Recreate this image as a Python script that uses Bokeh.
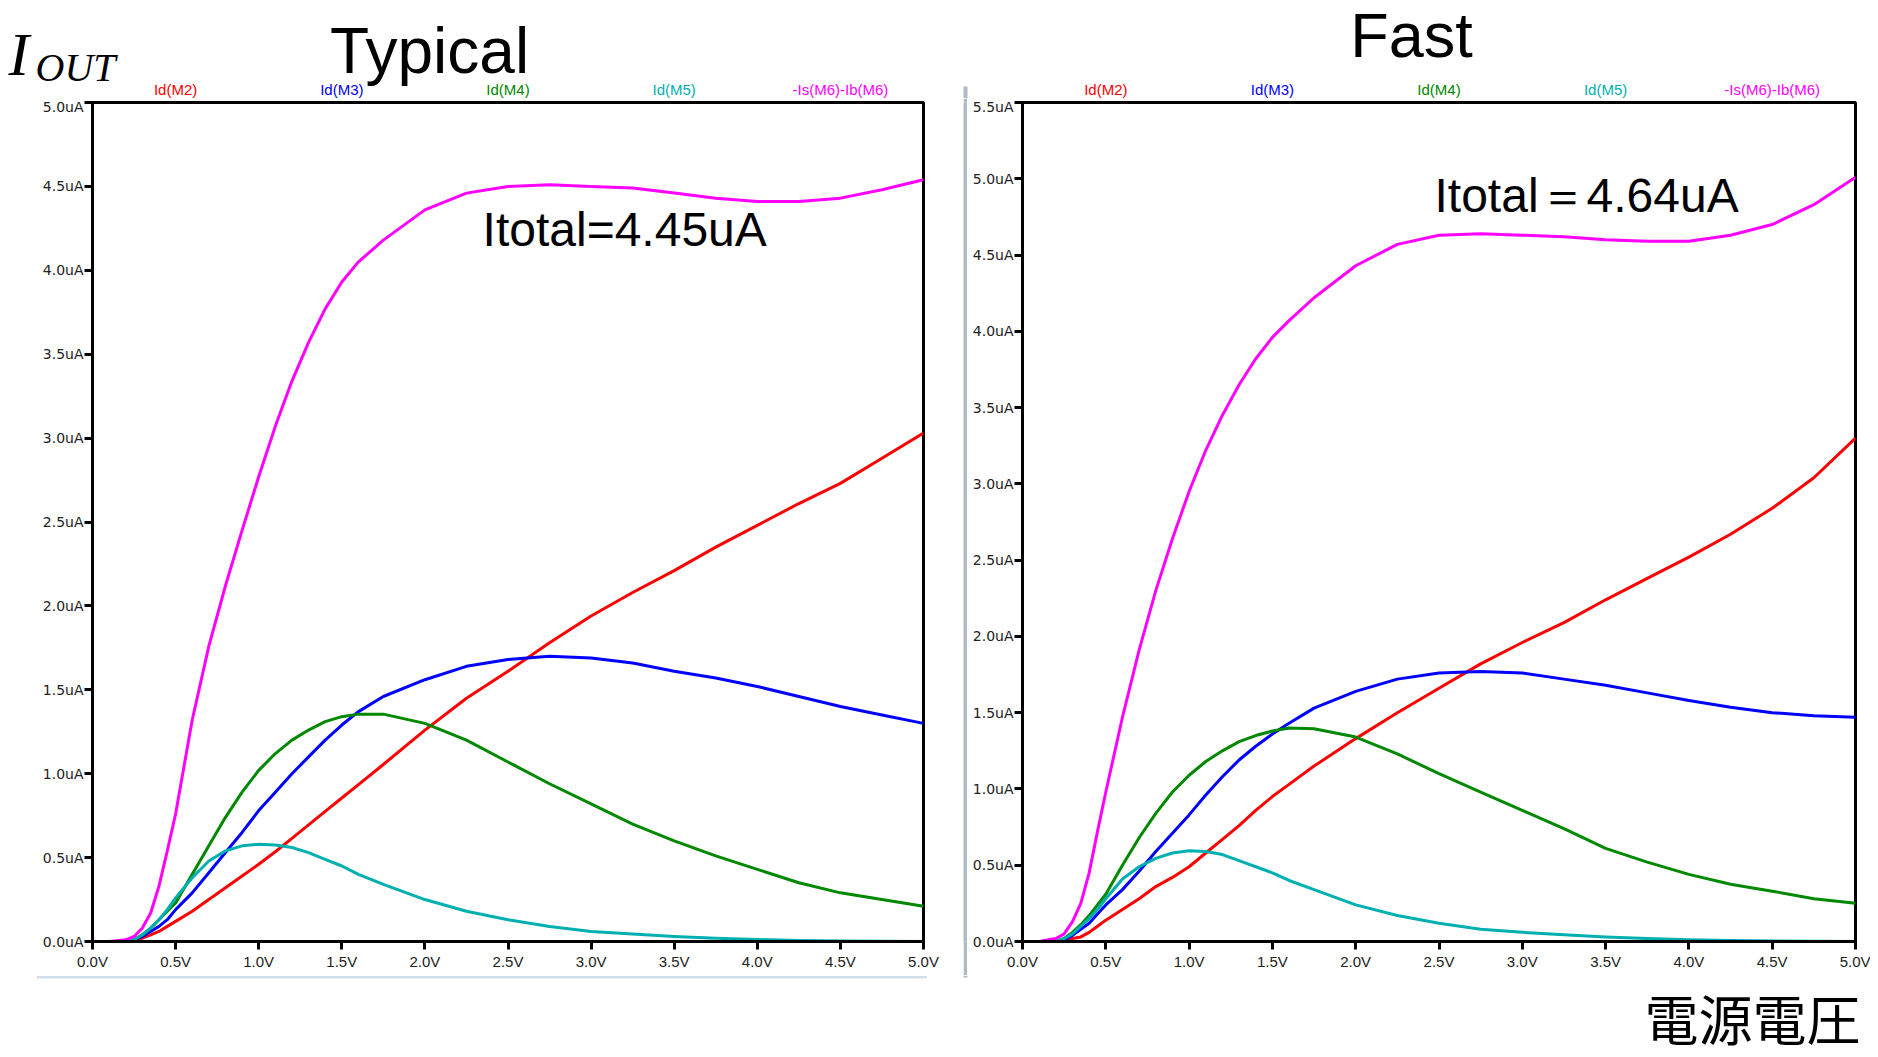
from bokeh.plotting import figure
from bokeh.layouts import row, column
from bokeh.models import Range1d, FixedTicker, Label, BoxAnnotation
from bokeh.embed import file_html
from bokeh.resources import INLINE

# ---------------- data ----------------
vdd = [0, 0.1, 0.2, 0.25, 0.3, 0.35, 0.4, 0.45, 0.5, 0.6, 0.7, 0.8, 0.9, 1.0,
       1.1, 1.2, 1.3, 1.4, 1.5, 1.6, 1.75, 2.0, 2.25, 2.5, 2.75, 3.0, 3.25,
       3.5, 3.75, 4.0, 4.25, 4.5, 4.75, 5.0]

# Typical corner (uA)
typ_m2 = [0, 0, 0, 0.005, 0.02, 0.04, 0.06, 0.09, 0.12, 0.18, 0.25, 0.32, 0.39, 0.46,
          0.535, 0.615, 0.695, 0.775, 0.855, 0.935, 1.055, 1.26, 1.45, 1.61, 1.78, 1.94, 2.08,
          2.21, 2.35, 2.48, 2.61, 2.73, 2.88, 3.03]
typ_m3 = [0, 0, 0, 0.01, 0.03, 0.06, 0.09, 0.13, 0.19, 0.29, 0.41, 0.53, 0.65, 0.78,
          0.89, 1.00, 1.10, 1.20, 1.29, 1.37, 1.46, 1.56, 1.64, 1.68, 1.70, 1.69, 1.66,
          1.61, 1.57, 1.52, 1.46, 1.40, 1.35, 1.30]
typ_m4 = [0, 0, 0, 0.01, 0.04, 0.08, 0.13, 0.18, 0.23, 0.40, 0.57, 0.74, 0.89, 1.02,
          1.12, 1.20, 1.26, 1.31, 1.34, 1.355, 1.355, 1.30, 1.20, 1.07, 0.94, 0.82, 0.70,
          0.60, 0.51, 0.43, 0.35, 0.29, 0.25, 0.21]
typ_m5 = [0, 0, 0, 0.01, 0.04, 0.08, 0.13, 0.19, 0.26, 0.38, 0.48, 0.54, 0.57, 0.58,
          0.575, 0.56, 0.53, 0.49, 0.45, 0.40, 0.34, 0.25, 0.18, 0.13, 0.09, 0.06, 0.045,
          0.03, 0.02, 0.012, 0.006, 0.003, 0.001, 0.0]
typ_m6 = [0, 0, 0.01, 0.03, 0.08, 0.17, 0.33, 0.54, 0.76, 1.32, 1.76, 2.12, 2.45, 2.77,
          3.07, 3.34, 3.57, 3.77, 3.93, 4.05, 4.18, 4.36, 4.46, 4.50, 4.51, 4.50, 4.49,
          4.46, 4.43, 4.41, 4.41, 4.43, 4.48, 4.54]

# Fast corner (uA)
fast_m2 = [0, 0, 0, 0.005, 0.02, 0.03, 0.06, 0.10, 0.14, 0.21, 0.28, 0.36, 0.42, 0.49,
           0.58, 0.67, 0.76, 0.86, 0.95, 1.03, 1.15, 1.33, 1.50, 1.66, 1.82, 1.96, 2.09,
           2.24, 2.38, 2.52, 2.67, 2.84, 3.04, 3.30]
fast_m3 = [0, 0, 0, 0.01, 0.04, 0.08, 0.12, 0.18, 0.24, 0.34, 0.46, 0.59, 0.71, 0.83,
           0.96, 1.08, 1.19, 1.28, 1.36, 1.43, 1.53, 1.64, 1.72, 1.76, 1.77, 1.76, 1.72,
           1.68, 1.63, 1.58, 1.535, 1.50, 1.48, 1.47]
fast_m4 = [0, 0, 0, 0.02, 0.06, 0.11, 0.17, 0.24, 0.31, 0.50, 0.68, 0.84, 0.98, 1.09,
           1.18, 1.25, 1.31, 1.35, 1.38, 1.40, 1.395, 1.34, 1.23, 1.10, 0.98, 0.86, 0.74,
           0.61, 0.52, 0.44, 0.375, 0.33, 0.28, 0.25]
fast_m5 = [0, 0, 0, 0.02, 0.05, 0.10, 0.15, 0.21, 0.28, 0.41, 0.49, 0.545, 0.58, 0.595,
           0.59, 0.57, 0.53, 0.49, 0.45, 0.40, 0.34, 0.24, 0.17, 0.12, 0.08, 0.06, 0.045,
           0.03, 0.02, 0.012, 0.006, 0.003, 0.001, 0.0]
fast_m6 = [0, 0, 0.02, 0.05, 0.13, 0.25, 0.45, 0.72, 0.98, 1.47, 1.91, 2.30, 2.64, 2.95,
           3.22, 3.45, 3.65, 3.82, 3.96, 4.07, 4.22, 4.43, 4.57, 4.63, 4.64, 4.63, 4.62,
           4.60, 4.59, 4.59, 4.63, 4.70, 4.83, 5.01]

series_names = ["Id(M2)", "Id(M3)", "Id(M4)", "Id(M5)", "-Is(M6)-Ib(M6)"]
series_colors = ["#ff0000", "#0000ff", "#008800", "#00b0b0", "#ff00ff"]

x_ticks = [0, 0.5, 1.0, 1.5, 2.0, 2.5, 3.0, 3.5, 4.0, 4.5, 5.0]
x_tick_labels = ["0.0V", "0.5V", "1.0V", "1.5V", "2.0V", "2.5V", "3.0V", "3.5V", "4.0V", "4.5V", "5.0V"]
y_ticks_typ = [0, 0.5, 1.0, 1.5, 2.0, 2.5, 3.0, 3.5, 4.0, 4.5, 5.0]
y_labels_typ = ["0.0uA", "0.5uA", "1.0uA", "1.5uA", "2.0uA", "2.5uA", "3.0uA", "3.5uA", "4.0uA", "4.5uA", "5.0uA"]
y_ticks_fast = [0, 0.5, 1.0, 1.5, 2.0, 2.5, 3.0, 3.5, 4.0, 4.5, 5.0, 5.5]
y_labels_fast = ["0.0uA", "0.5uA", "1.0uA", "1.5uA", "2.0uA", "2.5uA", "3.0uA", "3.5uA", "4.0uA", "4.5uA", "5.0uA", "5.5uA"]

title_typ = "Typical"
title_fast = "Fast"
note_typ = "Itotal=4.45uA"
note_fast = "Itotal\uff1d4.64uA"
x_title = "電源電圧"

# ---------------- layout geometry (canvas pixels) ----------------
PAGE_W = 1870
BOT_W = 1876
TOP_H, ROW_H, BOT_H = 98, 877, 82
P1_W, SEP_W, P2_W = 963, 4, 903
P1_FRAME = (92, 831, 4, 839)   # border-left, frame width, border-top, frame height
P2_FRAME = (55, 833, 4, 842)


def blank_fig(width, height, x_left, y_top, **kw):
    """A figure whose frame is the whole canvas, in page-pixel coordinates."""
    p = figure(width=width, height=height, output_backend="svg", toolbar_location=None,
               x_axis_type=None, y_axis_type=None,
               min_border_left=0, min_border_right=0, min_border_top=0, min_border_bottom=0,
               x_range=Range1d(x_left, x_left + width),
               y_range=Range1d(y_top + height, y_top), **kw)
    p.grid.visible = False
    p.outline_line_color = None
    if p.title is not None:
        p.title.visible = False
    return p


def make_fig(width, height, frame, ymax, yticks, ylabels):
    bl, fw, bt, fh = frame
    p = figure(width=width, height=height, output_backend="svg", toolbar_location=None,
               x_range=Range1d(0, 5), y_range=Range1d(0, ymax),
               min_border_left=bl, min_border_right=width - bl - fw,
               min_border_top=bt, min_border_bottom=height - bt - fh)
    if p.title is not None:
        p.title.visible = False
    p.grid.visible = False
    p.background_fill_color = "white"
    p.border_fill_color = "white"
    p.outline_line_color = "black"
    p.outline_line_width = 3
    p.outline_line_alpha = 1.0
    for ax in (p.xaxis[0], p.yaxis[0]):
        ax.axis_line_width = 3
        ax.axis_line_color = "black"
        ax.major_tick_line_width = 3
        ax.major_tick_line_color = "black"
        ax.major_tick_in = 0
        ax.major_tick_out = 8
        ax.minor_tick_line_color = None
        ax.major_label_text_color = "#222222"
    p.xaxis.ticker = FixedTicker(ticks=x_ticks)
    p.xaxis.major_label_overrides = {t: l for t, l in zip(x_ticks, x_tick_labels)}
    p.xaxis.major_label_text_font = "Liberation Sans"
    p.xaxis.major_label_text_font_size = "15px"
    p.xaxis.major_label_standoff = 3
    p.yaxis.ticker = FixedTicker(ticks=yticks)
    p.yaxis.major_label_overrides = {t: l for t, l in zip(yticks, ylabels)}
    p.yaxis.major_label_text_font = "DejaVu Sans"
    p.yaxis.major_label_text_font_size = "14px"
    p.yaxis.major_label_standoff = 1
    return p


p1 = make_fig(P1_W, ROW_H, P1_FRAME, 5.0, y_ticks_typ, y_labels_typ)
p2 = make_fig(P2_W, ROW_H, P2_FRAME, 5.5, y_ticks_fast, y_labels_fast)

for p, ys in ((p1, [typ_m2, typ_m3, typ_m4, typ_m5, typ_m6]),
              (p2, [fast_m2, fast_m3, fast_m4, fast_m5, fast_m6])):
    for y, c in zip(ys, series_colors):
        p.line(vdd, y, line_color=c, line_width=3, line_join="round")

# Itotal notes (inside the plot frames)
p1.add_layout(Label(x=2.347, y=4.246, text=note_typ, text_font="Liberation Sans",
                    text_font_size="48px", text_align="left", text_baseline="middle",
                    text_color="black"))
p2.add_layout(Label(x=2.473, y=4.892, text=note_fast, text_font="Liberation Sans",
                    text_font_size="48px", text_align="left", text_baseline="middle",
                    text_color="black"))

# separator (window border of the right-hand screenshot)
sep = blank_fig(SEP_W, ROW_H, P1_W, TOP_H, background_fill_color="#b0bac5")
sep.border_fill_color = "#b0bac5"

# ---------------- top strip: titles, I_OUT, series names ----------------
top = blank_fig(PAGE_W, TOP_H, 0, 0)
p1_left = P1_FRAME[0]
p2_left = P1_W + SEP_W + P2_FRAME[0]
for frame_left, fw in ((p1_left, P1_FRAME[1]), (p2_left, P2_FRAME[1])):
    for k, (name, c) in enumerate(zip(series_names, series_colors)):
        top.add_layout(Label(x=frame_left + (0.5 + k) * fw / 5.0, y=89, text=name,
                             text_color=c, text_font="Liberation Sans", text_font_size="15px",
                             text_align="center", text_baseline="middle"))

top.add_layout(Label(x=429, y=50, text=title_typ, text_font="Liberation Sans",
                     text_font_size="64px", text_align="center", text_baseline="middle",
                     text_color="black"))
top.add_layout(Label(x=1411, y=34, text=title_fast, text_font="Liberation Sans",
                     text_font_size="63px", text_align="center", text_baseline="middle",
                     text_color="black"))
top.add_layout(Label(x=8, y=53, text="I", text_font="Liberation Serif",
                     text_font_style="italic", text_font_size="62px",
                     text_align="left", text_baseline="middle", text_color="black"))
top.add_layout(Label(x=35, y=67, text="OUT", text_font="Liberation Serif",
                     text_font_style="italic", text_font_size="40px",
                     text_align="left", text_baseline="middle", text_color="black"))
top.add_layout(BoxAnnotation(left=963, right=967, top=86, bottom=98,
                             fill_color="#b0bac5", fill_alpha=1.0, line_color=None))

# ---------------- bottom strip: x title ----------------
bot = blank_fig(BOT_W, BOT_H, 0, TOP_H + ROW_H)
bot.add_layout(BoxAnnotation(left=36, right=926, top=975.5, bottom=978,
                             fill_color="#d3deeb", fill_alpha=1.0, line_color=None))
bot.add_layout(BoxAnnotation(left=963, right=967, top=975, bottom=977,
                             fill_color="#b0bac5", fill_alpha=1.0, line_color=None))
bot.add_layout(Label(x=1752, y=1017, text=x_title, text_font="Noto Sans CJK JP",
                     text_font_size="54px", text_align="center", text_baseline="middle",
                     text_color="black"))

layout = column(top, row(p1, sep, p2), bot)
open("out.html", "w").write(file_html(layout, INLINE))
